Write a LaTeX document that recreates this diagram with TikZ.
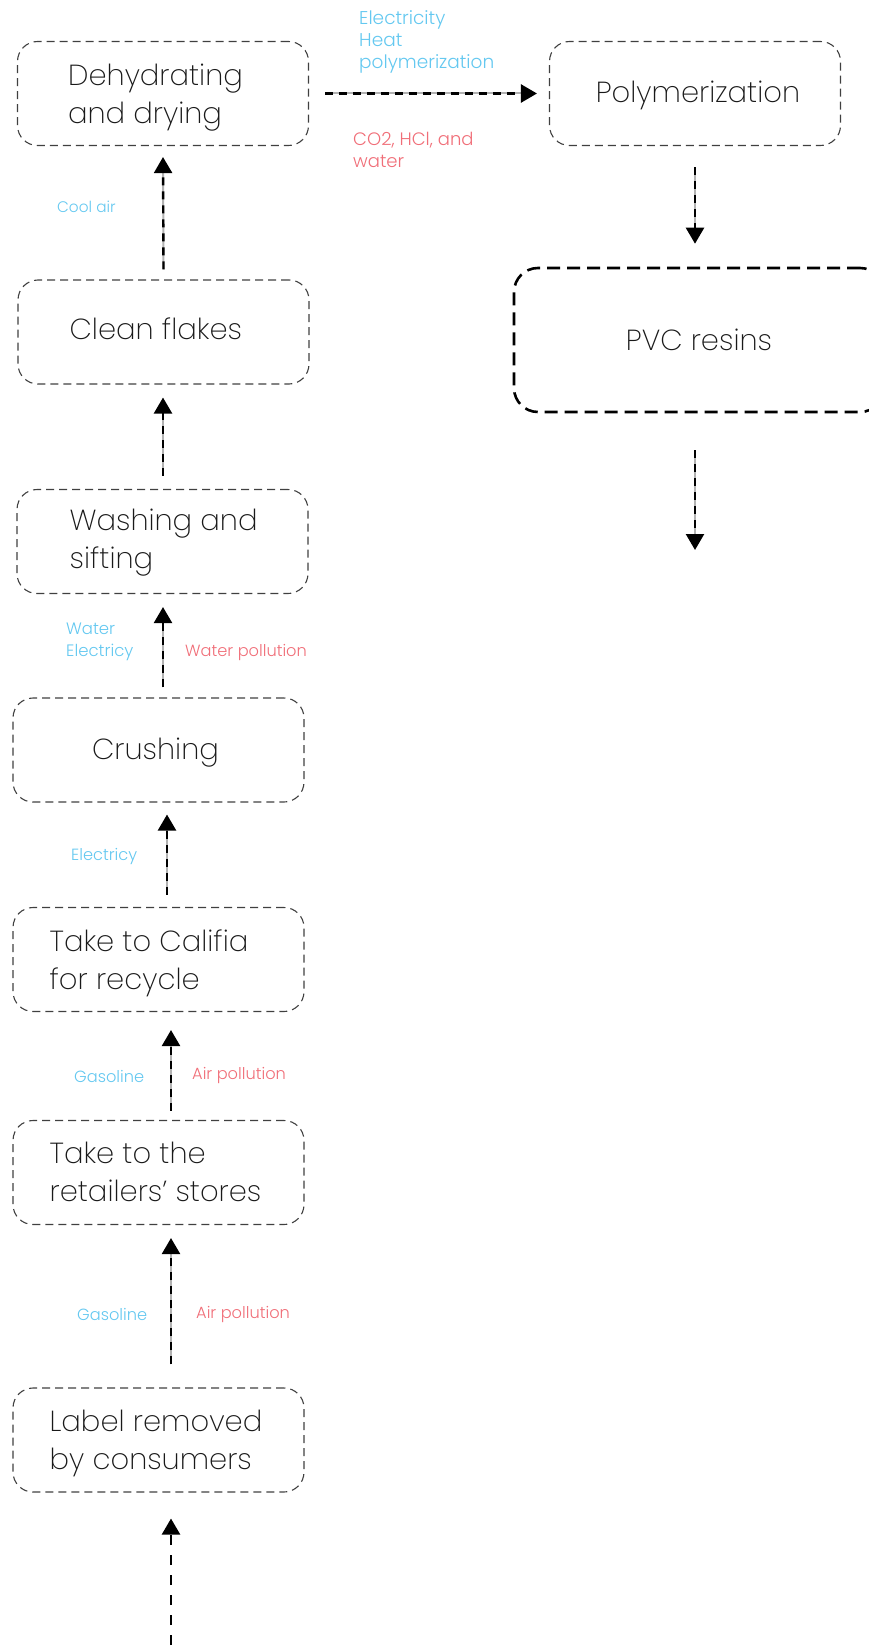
\documentclass[tikz,border=0pt]{standalone}
\usepackage{fontspec}
\setmainfont{Poppins ExtraLight}
\newfontfamily\lblfont{Poppins Light}
\usetikzlibrary{arrows.meta,calc}
\definecolor{inblue}{RGB}{100,200,240}
\definecolor{outred}{RGB}{240,110,120}
\tikzset{
  procbox/.style={draw=black!75, line width=1.1pt, dash pattern=on 8pt off 5pt,
    rounded corners=20pt, minimum width=291pt, minimum height=104pt, inner sep=0pt},
  boldbox/.style={draw=black, line width=2.6pt, dash pattern=on 13pt off 7pt,
    rounded corners=24pt, minimum width=370pt, minimum height=144pt, inner sep=0pt},
  boxtext/.style={font=\fontsize{29}{38}\selectfont, text=black!90, align=left, inner sep=0pt},
  inlabel/.style={font=\lblfont\fontsize{16.2}{22}\selectfont, text=inblue, align=left, inner sep=0pt, anchor=west},
  outlabel/.style={font=\lblfont\fontsize{16.2}{22}\selectfont, text=outred, align=left, inner sep=0pt, anchor=west},
  flowbase/.style={draw=black, line width=2.4pt, -{Triangle[width=18pt,length=16pt]}},
  flow/.style={flowbase, dash pattern=on 8pt off 6pt,
    preaction={draw=gray!60, line width=2pt, solid, -, shorten >=12pt}},
  plainflow/.style={flowbase, dash pattern=on 10pt off 10pt}
}
\begin{document}
\begin{tikzpicture}[x=1pt,y=-1pt]
\useasboundingbox (0,0) rectangle (869,1651);
\clip (0,0) rectangle (869,1651);

% boxes
\node[procbox] (dehyd) at (163,93.5) {};
\node[procbox] (poly) at (695,93.5) {};
\node[boldbox] (pvc) at (699,340) {};
\node[procbox] (clean) at (163.5,332) {};
\node[procbox] (wash) at (162.5,541.5) {};
\node[procbox] (crush) at (158.5,750) {};
\node[procbox] (califia) at (158.5,959.5) {};
\node[procbox] (retail) at (158.5,1172.5) {};
\node[procbox] (label) at (158.5,1440) {};

% box texts
\node[boxtext, anchor=west] (dehydT) at ($(dehyd.west)+(51,4)$) {Dehydrating\\and drying};
\node[boxtext] (polyT) at ($(poly.center)+(3,2)$) {Polymerization};
\node[boxtext] (pvcT) at (pvc.center) {PVC resins};
\node[boxtext, anchor=west] (cleanT) at ($(clean.west)+(52,-3)$) {Clean flakes};
\node[boxtext, anchor=west] (washT) at ($(wash.west)+(53,1.5)$) {Washing and\\sifting};
\node[boxtext] (crushT) at ($(crush.center)+(-3,3)$) {Crushing};
\node[boxtext, anchor=west] (califiaT) at ($(califia.west)+(37,4)$) {Take to Califia\\for recycle};
\node[boxtext, anchor=west] (retailT) at ($(retail.west)+(37,-1)$) {Take to the\\retailers’ stores};
\node[boxtext, anchor=west] (labelT) at ($(label.west)+(37,3)$) {Label removed\\by consumers};

% connectors
\draw[flow] ($(dehyd.east)+(16,0)$) -- ($(poly.west)+(-12,0)$);
\draw[flow] ($(poly.south)+(0,21)$) -- ($(pvc.north)+(-4,-23)$);
\coordinate (pvcend) at (695,550);
\draw[flow] ($(pvc.south)+(-4,37)$) -- (pvcend);
\draw[flow] ($(clean.north)+(0,-10)$) -- ($(dehyd.south)+(0,11)$);
\draw[flow] ($(wash.north)+(0.5,-13)$) -- ($(clean.south)+(-0.5,13)$);
\draw[flow] ($(crush.north)+(4.5,-10)$) -- ($(wash.south)+(0.5,13)$);
\draw[flow] ($(califia.north)+(8.5,-12)$) -- ($(crush.south)+(8.5,12)$);
\draw[flow] ($(retail.north)+(12.5,-9)$) -- ($(califia.south)+(12.5,18)$);
\draw[flow] ($(label.north)+(12.5,-23)$) -- ($(retail.south)+(12.5,13)$);
\coordinate (start) at (171,1665);
\draw[plainflow] (start) -- ($(label.south)+(12.5,26)$);

% labels
\node[inlabel, font=\lblfont\fontsize{18.5}{22}\selectfont] (l1) at (359,42) {Electricity\\Heat\\polymerization};
\node[outlabel, font=\lblfont\fontsize{18}{22}\selectfont] (l2) at (353,150) {CO2, HCl, and\\water};
\node[inlabel, font=\lblfont\fontsize{15.3}{22}\selectfont] (l3) at (57,207) {Cool air};
\node[inlabel, font=\lblfont\fontsize{16.5}{22}\selectfont] (l4) at (66,642) {Water\\Electricy};
\node[outlabel] (l5) at (185,652) {Water pollution};
\node[inlabel] (l6) at (71,856) {Electricy};
\node[inlabel] (l7) at (74,1076) {Gasoline};
\node[outlabel] (l8) at (192,1075) {Air pollution};
\node[inlabel] (l9) at (77,1314) {Gasoline};
\node[outlabel] (l10) at (196,1314) {Air pollution};
\end{tikzpicture}
\end{document}
